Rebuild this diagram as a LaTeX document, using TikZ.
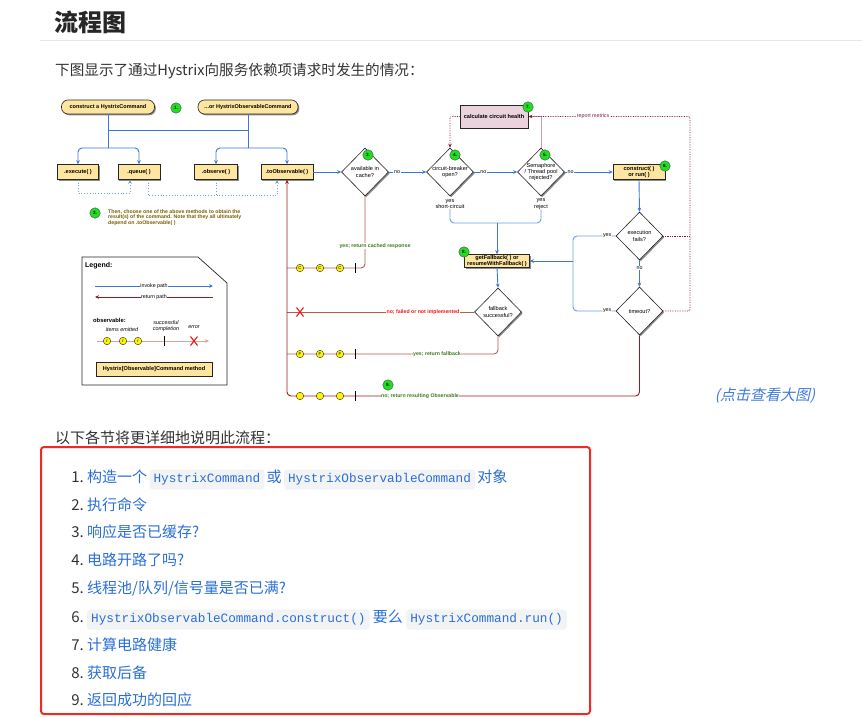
\documentclass[tikz,border=0pt]{standalone}
\usepackage{fontspec}
\setmainfont{Liberation Sans}
\newfontfamily\cjk{Noto Sans CJK SC}
\newfontfamily\cjkslant{Noto Sans CJK SC}[FakeSlant=0.22]
\newfontfamily\codefont{Liberation Mono}
\usepackage{xcolor}
\usepackage{tikz}
\usetikzlibrary{arrows.meta,positioning,shapes.geometric,shadows}
\definecolor{InvokeBlue}{HTML}{3C78D8}
\definecolor{BraceBlue}{HTML}{6E9EE4}
\definecolor{ReturnRed}{HTML}{9E1A1A}
\definecolor{ReturnBrown}{HTML}{B85C48}
\definecolor{MetricWine}{HTML}{7A1F45}
\definecolor{HealthLine}{HTML}{C99BB2}
\definecolor{MethodFill}{HTML}{FFE6A0}
\definecolor{HealthFill}{HTML}{EBD3DE}
\definecolor{StepGreen}{HTML}{1EE01E}
\definecolor{NoteInk}{HTML}{7A5C00}
\definecolor{YesGreen}{HTML}{3D7A1A}
\definecolor{NoRed}{HTML}{F01818}
\definecolor{LinkBlue}{HTML}{2A6FD6}
\definecolor{CodeBack}{HTML}{F2F3F5}
\definecolor{FrameRed}{HTML}{F02A22}
\definecolor{BodyInk}{HTML}{333333}
\definecolor{RuleGray}{HTML}{E6E6E6}
\tikzset{
  flowchart/.style={x=1pt,y=-1pt,font=\fontsize{5}{6}\selectfont},
  tip/.style={-{Stealth[length=4pt,width=3.6pt]}},
  boxshadow/.style={drop shadow={shadow xshift=1.3pt,shadow yshift=-1.3pt,fill=black!45,opacity=1}},
  starter/.style={draw=black!85,fill=MethodFill,line width=0.6pt,rounded corners=6.5pt,minimum height=14pt,inner sep=1pt,font=\fontsize{5.5}{6}\selectfont\bfseries,boxshadow},
  method/.style={draw=black!85,fill=MethodFill,line width=0.6pt,minimum height=15pt,align=center,inner sep=1pt,font=\fontsize{5.6}{6}\selectfont\bfseries,boxshadow},
  decision/.style={diamond,draw=black!85,fill=white,line width=0.6pt,minimum width=47pt,minimum height=48pt,inner sep=0pt,boxshadow},
  dtext/.style={font=\fontsize{5.6}{6.4}\selectfont,align=center,inner sep=0pt},
  stepnum/.style={circle,draw=black!70,fill=StepGreen,line width=0.4pt,minimum size=10.5pt,inner sep=0pt,font=\fontsize{4.6}{5}\selectfont\bfseries},
  invoke/.style={draw=InvokeBlue,line width=0.9pt},
  bracelink/.style={draw=BraceBlue,line width=0.9pt,rounded corners=4pt},
  choice/.style={draw=BraceBlue,line width=0.8pt,dotted},
  retpath/.style={draw=ReturnRed,line width=0.9pt},
  retlight/.style={draw=ReturnBrown,line width=0.9pt},
  metric/.style={draw=MetricWine,line width=0.7pt,densely dotted},
  tag/.style={fill=white,inner sep=0.6pt,font=\fontsize{5.3}{5.6}\selectfont},
  yestag/.style={tag,text=YesGreen,font=\fontsize{5.2}{5.6}\selectfont\bfseries},
  emit/.style={circle,draw=black!80,fill=yellow,line width=0.4pt,minimum size=7.5pt,inner sep=0pt,font=\fontsize{4.2}{4.2}\selectfont},
  listnum/.style={anchor=base east,inner sep=0pt,font=\cjk\fontsize{15}{18}\selectfont,text=BodyInk},
  listtext/.style={anchor=base west,inner sep=0pt,font=\cjk\fontsize{15}{18}\selectfont,text=LinkBlue},
  codechip/.style={anchor=base west,fill=CodeBack,rounded corners=3pt,inner xsep=4pt,inner ysep=0pt,text height=13pt,text depth=7pt,font=\codefont\fontsize{12.7}{14}\selectfont,text=LinkBlue},
}

\begin{document}
\begin{tikzpicture}[flowchart]
  \useasboundingbox (0,0) rectangle (862,717);
  \fill[white] (0,0) rectangle (862,717);

  % page text
  \node[anchor=west,inner sep=0pt,font=\cjk\bfseries\fontsize{24}{26}\selectfont,text=black!85] (title) at (54,22) {流程图};
  \draw[RuleGray,line width=1pt] (40,41) -- (862,41);
  \node[anchor=west,inner sep=0pt,font=\cjk\fontsize{14.6}{17}\selectfont,text=BodyInk] (intro) at (55,71) {下图显示了通过Hystrix向服务依赖项请求时发生的情况：};

  % entry points
  \node[starter,minimum width=93pt] (hcmd) at (108,107) {construct a HystrixCommand};
  \node[stepnum] (s1) at (176,108) {1.};
  \node[starter,minimum width=100pt] (hocmd) at (248,107) {...or HystrixObservableCommand};

  \node[method,minimum width=41pt] (exec) at (78,172) {.execute( )};
  \node[method,minimum width=42pt] (queue) at (139,172) {.queue( )};
  \node[method,minimum width=43pt] (observe) at (216,172) {.observe( )};
  \node[method,minimum width=52pt] (toobs) at (287,172) {.toObservable( )};

  \coordinate (link) at (0,130);
  \coordinate (fork1) at (108,148);
  \coordinate (fork2) at (248,148);
  \draw[invoke] (hcmd.south) -- (fork1);
  \draw[invoke] (hocmd.south) -- (fork2);
  \draw[invoke] (hcmd.south |- link) -- (hocmd.south |- link);
  \draw[invoke,rounded corners=4pt,tip] (fork1) -| (exec.north);
  \draw[invoke,rounded corners=4pt,tip] (fork1) -| (queue.north);
  \draw[invoke,rounded corners=4pt,tip] (fork2) -| (observe.north);
  \draw[invoke,rounded corners=4pt,tip] (fork2) -| (toobs.north);

  \draw[choice,tip] (exec.south) -- ++(0,13.5) -| ([xshift=-9pt]queue.south);
  \draw[choice,tip] ([xshift=9pt]queue.south) -- ++(0,15.5) -| ([xshift=-10pt]toobs.south);
  \draw[choice] (observe.south) -- ++(0,15.5);

  \node[stepnum] (s2) at (95,213) {2.};
  \node[anchor=west,align=left,inner sep=0pt,text=NoteInk,font=\fontsize{5.2}{5.8}\selectfont\bfseries] (note) at (108,217.5)
    {Then, choose one of the above methods to obtain the\\result(s) of the command. Note that they all ultimately\\depend on .toObservable( )};

  % decisions
  \node[decision,label={[dtext]center:{available in\\cache?}}] (cache) at (365,172) {};
  \node[stepnum] (s3) at (368,155) {3.};
  \node[decision,label={[dtext]center:{circuit-breaker\\open?}}] (cb) at (450,172) {};
  \node[stepnum] (s4) at (455,155) {4.};
  \node[decision,label={[dtext]center:{Semaphore\\/ Thread pool\\rejected?}}] (sem) at (541,172) {};
  \node[stepnum] (s5) at (545,155) {5.};
  \node[method,minimum width=52pt] (run) at (639,172) {construct( )\\or run( )};
  \node[stepnum] (s6) at (665,166) {6.};
  \node[decision,label={[dtext]center:{execution\\fails?}}] (fails) at (639.5,236) {};
  \node[decision,label={[dtext]center:{timeout?}}] (timeout) at (639.5,311) {};
  \node[method,minimum width=65pt,minimum height=13pt,inner sep=0.5pt] (fallback) at (497,261) {getFallback( ) or\\resumeWithFallback( )};
  \node[stepnum] (s8) at (464,252) {8.};
  \node[decision,label={[dtext]center:{fallback\\successful?}}] (fbok) at (498,312) {};

  \node[method,fill=HealthFill,line width=1pt,minimum width=68pt,minimum height=23pt,font=\fontsize{5.6}{6}\selectfont\bfseries] (health) at (494,116.5) {calculate circuit health};
  \node[stepnum] (s7) at (528,107) {7.};

  \draw[invoke,tip] (toobs.east) -- (cache.west);
  \draw[invoke,tip] (cache.east) -- node[tag,pos=0.22]{no} (cb.west);
  \draw[invoke,tip] (cb.east) -- node[tag,pos=0.22]{no} (sem.west);
  \draw[invoke,tip] (sem.east) -- node[tag,pos=0.12]{no} (run.west);
  \draw[invoke,tip] (run.south) -- (fails.north);
  \draw[invoke,tip] (fails.south) -- node[tag,pos=0.3]{no} (timeout.north);

  \node[align=center,inner sep=0pt,font=\fontsize{5.6}{6.4}\selectfont] (short) at (450,204) {yes\\short-circuit};
  \node[align=center,inner sep=0pt,font=\fontsize{5.6}{6.4}\selectfont] (reject) at (541,204) {yes\\reject};
  \coordinate (fbfork) at (497,223);
  \draw[bracelink] (short.south) |- (fbfork) -| (reject.south);
  \draw[invoke,tip] (fbfork) -- (fallback.north);

  \coordinate (rfork) at (573,261);
  \draw[bracelink] (fails.west) -- node[tag,pos=0.2]{yes} (fails.west -| rfork) -- (rfork) -- (timeout.west -| rfork) -- node[tag,pos=0.8]{yes} (timeout.west);
  \draw[invoke,tip] (rfork) -- (fallback.east);
  \draw[invoke,tip] (fallback.south) -- (fbok.north);

  % circuit health and metrics
  \coordinate (mtop) at (690,116.5);
  \draw[HealthLine,line width=0.9pt] (sem.north) |- (health.east);
  \draw[metric] (fails.east) -- (fails.east -| mtop);
  \draw[metric,rounded corners=2pt,tip] (timeout.east) -| (mtop) -- node[tag,text=MetricWine,pos=0.6]{report metrics} (health.east);
  \draw[metric,rounded corners=2pt,tip] (health.west) -| (cb.north);

  % return paths
  \coordinate (lvcache) at (0,268);
  \coordinate (lvfail) at (0,312);
  \coordinate (lvfb) at (0,354);
  \coordinate (lvok) at (0,396);
  \draw[retlight,rounded corners=4pt] (cache.south) |- (toobs.south |- lvcache);
  \draw[retlight] (fbok.west) -- (toobs.south |- lvfail);
  \draw[retlight,rounded corners=4pt] (fbok.south) |- (toobs.south |- lvfb);
  \draw[retpath,rounded corners=4pt,tip] (timeout.south) |- (toobs.south |- lvok) -- (toobs.south);

  \node[yestag] (cachelbl) at (375,246) {yes; return cached response};
  \node[tag,text=NoRed,font=\fontsize{5.2}{5.6}\selectfont\bfseries] (faillbl) at (423,312) {no; failed or not implemented};
  \node[yestag] (fblbl) at (437,354) {yes; return fallback};
  \node[yestag] (oklbl) at (420,396) {no; return resulting Observable};
  \node[stepnum] (s9) at (388,385) {9.};

  \foreach \x/\n in {300/1,320/2,340/3} {
    \node[emit] (cached\n) at (\x,268) {C};
    \node[emit] (fallen\n) at (\x,354) {F};
    \node[emit] (result\n) at (\x,396) {};
  }
  \foreach \y in {268,354,396}
    \draw[black,line width=0.8pt] (355,\y-5) -- (355,\y+5);
  \draw[NoRed,line width=1.1pt] (296.5,307.5) -- (303.5,316.5) (303.5,307.5) -- (296.5,316.5);

  % legend
  \draw[black!85,line width=0.7pt] (82,257) -- (198,257) -- (227,283) -- (227,385) -- (82,385) -- cycle;
  \node[anchor=west,inner sep=0pt,font=\fontsize{7}{8}\selectfont\bfseries] (legtitle) at (85,266) {Legend:};
  \draw[invoke,tip] (95,286) -- node[tag]{invoke path} (213,286);
  \draw[retpath,tip] (213,297) -- node[tag]{return path} (95,297);
  \node[anchor=west,inner sep=0pt,font=\fontsize{5.8}{6}\selectfont\bfseries] (obslbl) at (93,320) {observable:};
  \node[font=\fontsize{5.4}{6}\selectfont\itshape] (itemslbl) at (122,330) {items emitted};
  \node[align=center,font=\fontsize{5.4}{5.8}\selectfont\itshape] (donelbl) at (166,326) {successful\\completion};
  \node[font=\fontsize{5.4}{6}\selectfont\itshape] (errlbl) at (194,327) {error};
  \draw[ReturnBrown!55,line width=1pt,tip] (97,341) -- (209,341);
  \foreach \x/\n in {107/1,123/2,138/3}
    \node[emit] (sample\n) at (\x,341) {r};
  \draw[black,line width=0.8pt] (164,336) -- (164,346);
  \draw[NoRed,line width=1.1pt] (190.5,336.5) -- (197.5,345.5) (197.5,336.5) -- (190.5,345.5);
  \node[method,minimum width=116pt,minimum height=14pt] (legbox) at (154,369) {Hystrix[Observable]Command method};

  \node[inner sep=0pt,font=\cjkslant\fontsize{15}{18}\selectfont,text=LinkBlue!90] (bigpic) at (765,396) {(点击查看大图)};

  % steps list
  \node[anchor=west,inner sep=0pt,font=\cjk\fontsize{15}{18}\selectfont,text=BodyInk] (sections) at (55,438) {以下各节将更详细地说明此流程：};
  \draw[FrameRed,line width=2pt,rounded corners=3pt] (41,447) rectangle (590,714);

  \node[listnum] (n1) at (84,482.5) {1.};
  \node[listtext] (t1a) at ([xshift=3pt]n1.base east) {构造一个};
  \node[codechip] (t1b) at ([xshift=2pt]t1a.base east) {HystrixCommand};
  \node[listtext] (t1c) at ([xshift=2pt]t1b.base east) {或};
  \node[codechip] (t1d) at ([xshift=2pt]t1c.base east) {HystrixObservableCommand};
  \node[listtext] (t1e) at ([xshift=2pt]t1d.base east) {对象};

  \foreach \n/\y/\txt in {2/510.5/执行命令,3/537.5/{响应是否已缓存?},4/565.5/{电路开路了吗?},5/593.5/{线程池/队列/信号量是否已满?},7/650.5/计算电路健康,8/678.5/获取后备,9/705.5/返回成功的回应} {
    \node[listnum] (n\n) at (84,\y) {\n.};
    \node[listtext] (t\n) at ([xshift=3pt]n\n.base east) {\txt};
  }

  \node[listnum] (n6) at (84,622.5) {6.};
  \node[codechip] (t6a) at ([xshift=3pt]n6.base east) {HystrixObservableCommand.construct()};
  \node[listtext] (t6b) at ([xshift=3pt]t6a.base east) {要么};
  \node[codechip] (t6c) at ([xshift=3pt]t6b.base east) {HystrixCommand.run()};
\end{tikzpicture}
\end{document}
